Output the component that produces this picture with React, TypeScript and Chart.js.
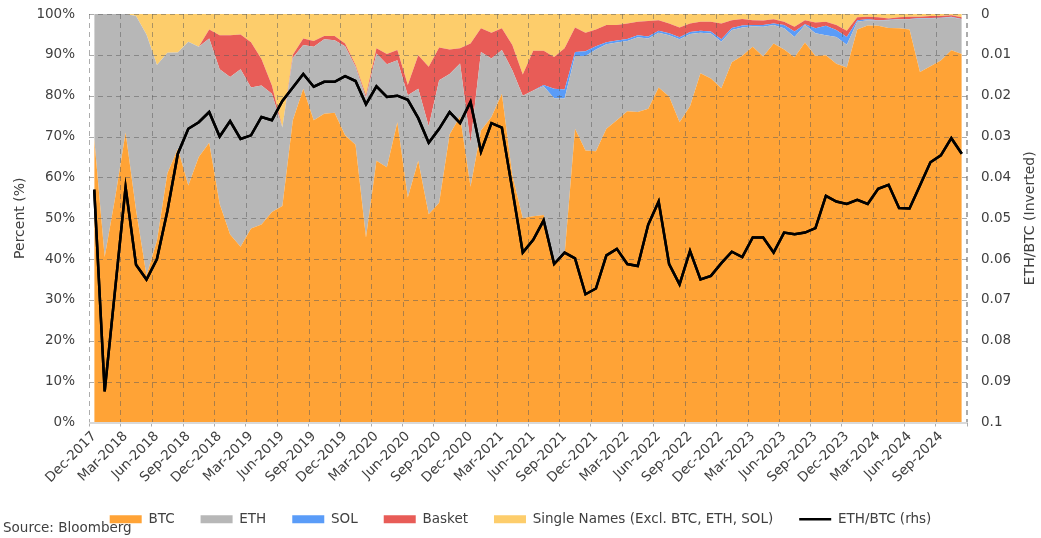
import React, { useEffect, useRef } from "react";
import { Chart, registerables } from "chart.js";

Chart.register(...registerables);

const months: string[] = [
  "Dec-2017",
  "Jan-2018","Feb-2018","Mar-2018","Apr-2018","May-2018","Jun-2018","Jul-2018","Aug-2018","Sep-2018","Oct-2018","Nov-2018","Dec-2018",
  "Jan-2019","Feb-2019","Mar-2019","Apr-2019","May-2019","Jun-2019","Jul-2019","Aug-2019","Sep-2019","Oct-2019","Nov-2019","Dec-2019",
  "Jan-2020","Feb-2020","Mar-2020","Apr-2020","May-2020","Jun-2020","Jul-2020","Aug-2020","Sep-2020","Oct-2020","Nov-2020","Dec-2020",
  "Jan-2021","Feb-2021","Mar-2021","Apr-2021","May-2021","Jun-2021","Jul-2021","Aug-2021","Sep-2021","Oct-2021","Nov-2021","Dec-2021",
  "Jan-2022","Feb-2022","Mar-2022","Apr-2022","May-2022","Jun-2022","Jul-2022","Aug-2022","Sep-2022","Oct-2022","Nov-2022","Dec-2022",
  "Jan-2023","Feb-2023","Mar-2023","Apr-2023","May-2023","Jun-2023","Jul-2023","Aug-2023","Sep-2023","Oct-2023","Nov-2023","Dec-2023",
  "Jan-2024","Feb-2024","Mar-2024","Apr-2024","May-2024","Jun-2024","Jul-2024","Aug-2024","Sep-2024","Oct-2024","Nov-2024",
];

const btc: number[] = [
  69.5, 40.5, 55, 71, 52, 36, 44.5, 61, 67, 58,
  65, 68.5, 53.5, 46, 43, 47.5, 48.5, 51.5, 53, 74,
  81.7, 74, 75.6, 75.8, 70.3, 68, 45.3, 64.1, 62.5, 73.5,
  55.1, 64.1, 51, 53.8, 70.5, 75, 57.7, 71.5, 74.8, 80.5,
  60.5, 50, 50.5, 50.8, 38.7, 41, 71.9, 66.6, 66.4, 71.9,
  74, 76.2, 76, 76.8, 82, 79.8, 73.5, 77.4, 85.5, 84.2,
  81.8, 88.2, 89.8, 92, 89.6, 92.8, 91.3, 89.4, 93, 89.7,
  89.9, 87.8, 86.9, 96.2, 97.2, 97.1, 96.6, 96.5, 96.2, 85.8,
  87.2, 88.6, 91.1, 90.2,
];

const eth: number[] = [
  30.5, 59.5, 45, 29, 47.5, 59, 43, 29.5, 23.6, 35.2,
  27, 25.5, 33, 38.6, 43.5, 34.5, 34, 29, 19.2, 15.3,
  10.7, 18, 18.2, 17.8, 21.8, 19.1, 34.2, 26.2, 25.2, 15.2,
  25, 17.6, 21.5, 30, 14.8, 12.9, 10.7, 19.2, 14.3, 10.7,
  25.7, 30, 30.8, 31.5, 40.7, 38.3, 17.8, 23.1, 24.9, 20.7,
  19, 17.2, 18.3, 17.2, 13.4, 15, 20.3, 17.7, 9.9, 11,
  11.4, 7.9, 6.9, 5, 7.3, 4.5, 5.2, 5, 4.3, 5.6,
  4.9, 6.6, 5.6, 1.9, 1.3, 1.3, 1.9, 2.2, 2.5, 13.1,
  11.7, 10.4, 8.1, 8.5,
];

const sol: number[] = [
  0, 0, 0, 0, 0, 0, 0, 0, 0, 0,
  0, 0, 0, 0, 0, 0, 0, 0, 0, 0,
  0, 0, 0, 0, 0, 0, 0, 0, 0, 0,
  0, 0, 0, 0, 0, 0, 0, 0, 0, 0,
  0, 0, 0, 0.3, 2.3, 2.2, 1.0, 1.2, 0.8, 0.5,
  0.5, 0.5, 0.5, 0.5, 0.5, 0.5, 0.5, 0.5, 0.5, 0.5,
  0.6, 0.5, 0.5, 0.3, 0.4, 0.4, 0.8, 1.3, 0.2, 1.2,
  2.3, 1.7, 1.9, 0.4, 0.2, 0.1, 0.1, 0.1, 0.1, 0.1,
  0.1, 0.1, 0.1, 0.1,
];

const basket: number[] = [
  0, 0, 0, 0, 0, 0, 0, 0, 0, 0,
  0, 2.2, 8.3, 10.2, 8.5, 11.1, 6.5, 2, 0, 0.7,
  1.6, 1.4, 0.8, 1.0, 0.7, 0.4, 0.6, 1.3, 2.5, 2.5,
  2.5, 8.2, 14.6, 8, 6, 3.7, 24.4, 5.8, 6.3, 5.3,
  6.2, 5.2, 9.7, 8.4, 7.8, 10.1, 6, 4.5, 4.1, 4.2,
  3.8, 3.8, 3.3, 3.8, 2.6, 2.4, 2.4, 2.1, 2.2, 2.4,
  3.9, 1.9, 1.6, 1.2, 1.1, 1.0, 0.8, 1.2, 1.0, 1.4,
  1.0, 1.2, 1.5, 0.7, 0.6, 0.7, 0.3, 0.4, 0.5, 0.3,
  0.5, 0.4, 0.4, 0.4,
];

const singleNames: number[] = [
  0, 0, 0, 0, 0.5, 5, 12.5, 9.5, 9.4, 6.8,
  8, 3.8, 5.2, 5.2, 5, 6.9, 11, 17.5, 27.8, 10,
  6, 6.6, 5.4, 5.4, 7.2, 12.5, 19.9, 8.4, 9.8, 8.8,
  17.4, 10.1, 12.9, 8.2, 8.7, 8.4, 7.2, 3.5, 4.6, 3.5,
  7.6, 14.8, 9, 9, 10.5, 8.4, 3.3, 4.6, 3.8, 2.7,
  2.7, 2.3, 1.9, 1.7, 1.5, 2.3, 3.3, 2.3, 1.9, 1.9,
  2.3, 1.5, 1.2, 1.5, 1.6, 1.3, 1.9, 3.1, 1.5, 2.1,
  1.9, 2.7, 4.1, 0.8, 0.7, 0.8, 1.1, 0.8, 0.7, 0.7,
  0.5, 0.5, 0.3, 0.8,
];

const ethBtc: number[] = [
  0.0430, 0.0924, 0.0674, 0.0424, 0.0614, 0.0650, 0.0600, 0.0482, 0.0342, 0.0281,
  0.0265, 0.0240, 0.0300, 0.0262, 0.0306, 0.0297, 0.0252, 0.0260, 0.0213, 0.0180,
  0.0147, 0.0178, 0.0166, 0.0166, 0.0152, 0.0164, 0.0221, 0.0177, 0.0203, 0.0200,
  0.0210, 0.0255, 0.0315, 0.0281, 0.0240, 0.0267, 0.0215, 0.0337, 0.0267, 0.0278,
  0.0430, 0.0584, 0.0553, 0.0505, 0.0612, 0.0584, 0.0598, 0.0686, 0.0672, 0.0591,
  0.0575, 0.0612, 0.0617, 0.0516, 0.0459, 0.0612, 0.0662, 0.0580, 0.0650, 0.0641,
  0.0610, 0.0582, 0.0595, 0.0547, 0.0547, 0.0584, 0.0535, 0.0539, 0.0535, 0.0524,
  0.0445, 0.0459, 0.0465, 0.0455, 0.0465, 0.0428, 0.0418, 0.0475, 0.0476, 0.0420,
  0.0363, 0.0346, 0.0304, 0.0342,
];

const seriesNames = ["BTC", "ETH", "SOL", "Basket", "Single Names (Excl. BTC, ETH, SOL)", "ETH/BTC (rhs)"];
const leftTitle = "Percent (%)";
const rightTitle = "ETH/BTC (Inverted)";
const sourceText = "Source: Bloomberg";

const FONT = "'DejaVu Sans', sans-serif";
const TEXT = "#404040";
const GRID = "rgba(90,90,90,0.5)";
const LINE_INDEX = 5;

export default function App() {
  const ref = useRef<HTMLCanvasElement | null>(null);

  useEffect(() => {
    document.body.style.margin = "0";
    const canvas = ref.current;
    if (!canvas) return;

    // Overlay: dashed grid (positions taken from the chart's own scales) above the fills,
    // then the library re-draws the ETH/BTC line element on top, then the extra texts.
    const overlay = {
      id: "overlay",
      afterDraw(chart: any) {
        const ca = chart.chartArea;
        const ctx = chart.ctx;
        const xs = chart.scales.x;
        const ys = chart.scales.y;

        ctx.save();
        ctx.strokeStyle = GRID;
        ctx.lineWidth = 1;
        ctx.setLineDash([5, 4]);
        ctx.beginPath();
        for (const t of ys.ticks) {
          const y = Math.round(ys.getPixelForValue(t.value)) + 0.5;
          ctx.moveTo(ca.left, y);
          ctx.lineTo(ca.right, y);
        }
        const n = months.length;
        for (let i = 0; i <= n; i += 3) {
          let x: number;
          if (i === 0) x = ca.left;
          else if (i >= n) x = ca.right;
          else x = (xs.getPixelForValue(i) + xs.getPixelForValue(i - 1)) / 2;
          x = Math.round(x) + 0.5;
          ctx.moveTo(x, ca.top);
          ctx.lineTo(x, ca.bottom);
        }
        ctx.moveTo(Math.round(ca.right) - 0.5, ca.top);
        ctx.lineTo(Math.round(ca.right) - 0.5, ca.bottom);
        ctx.stroke();
        ctx.restore();

        // bottom axis line
        ctx.save();
        ctx.strokeStyle = "#D9D9D9";
        ctx.lineWidth = 2;
        ctx.beginPath();
        ctx.moveTo(ca.left, Math.round(ca.bottom));
        ctx.lineTo(ca.right, Math.round(ca.bottom));
        ctx.stroke();
        ctx.restore();

        const meta = chart.getDatasetMeta(LINE_INDEX);
        ctx.save();
        ctx.beginPath();
        ctx.rect(ca.left, ca.top - 2, ca.right - ca.left, ca.bottom - ca.top + 4);
        ctx.clip();
        meta.controller.draw();
        ctx.restore();

        ctx.save();
        ctx.fillStyle = TEXT;
        ctx.font = `13.5px ${FONT}`;
        ctx.textAlign = "left";
        ctx.textBaseline = "alphabetic";
        ctx.fillText(sourceText, 3, 532);
        ctx.translate(1030, (ca.top + ca.bottom) / 2);
        ctx.rotate(-Math.PI / 2);
        ctx.textAlign = "center";
        ctx.textBaseline = "middle";
        ctx.font = `14px ${FONT}`;
        ctx.fillText(rightTitle, 0, 0);
        ctx.restore();
      },
    };

    const area = (label: string, data: number[], color: string, fill: any) => ({
      type: "line" as const,
      label,
      data,
      yAxisID: "y",
      backgroundColor: color,
      borderColor: color,
      borderWidth: 0,
      pointRadius: 0,
      pointHoverRadius: 0,
      pointStyle: "rect",
      fill,
      tension: 0,
    });

    const chart = new Chart(canvas, {
      type: "line",
      data: {
        labels: months,
        datasets: [
          area(seriesNames[0], btc, "#FFA336", "origin"),
          area(seriesNames[1], eth, "#B7B7B7", "-1"),
          area(seriesNames[2], sol, "#5A9CF8", "-1"),
          area(seriesNames[3], basket, "#E85C57", "-1"),
          area(seriesNames[4], singleNames, "#FDCD6B", "-1"),
          {
            type: "line",
            label: seriesNames[5],
            data: ethBtc,
            yAxisID: "y1",
            borderColor: "#000000",
            backgroundColor: "#000000",
            borderWidth: 2.5,
            pointRadius: 0,
            pointHoverRadius: 0,
            pointStyle: "line",
            fill: false,
            tension: 0,
            order: -1,
          } as any,
        ],
      },
      options: {
        responsive: false,
        animation: false,
        devicePixelRatio: 1,
        layout: { padding: { top: 14, left: 0, right: 0, bottom: 2 } },
        font: { family: FONT, size: 13.5 } as any,
        plugins: {
          tooltip: { enabled: false },
          legend: {
            position: "bottom",
            labels: {
              color: TEXT,
              font: { family: FONT, size: 13.5 },
              usePointStyle: true,
              pointStyleWidth: 32,
              boxHeight: 8,
              padding: 26,
              sort: (a: any, b: any) => a.datasetIndex - b.datasetIndex,
            },
          },
        },
        scales: {
          x: {
            type: "category",
            offset: true,
            grid: {
              offset: true,
              display: true,
              drawOnChartArea: false,
              drawTicks: true,
              tickLength: 4,
              lineWidth: 1,
              color: (ctx: any) =>
                ctx.index === undefined || ctx.index % 3 === 0 ? GRID : "rgba(0,0,0,0)",
            },
            border: { display: false },
            ticks: {
              autoSkip: false,
              maxRotation: 45,
              minRotation: 45,
              padding: 2,
              color: TEXT,
              font: { family: FONT, size: 13.5 },
              callback: (_v: any, i: number) => (i % 3 === 0 ? months[i] : ""),
            },
            afterFit: (s: any) => {
              s.height = 64;
            },
          },
          y: {
            type: "linear",
            position: "left",
            stacked: true,
            min: 0,
            max: 100,
            grid: {
              drawOnChartArea: false,
              drawTicks: true,
              tickLength: 11,
              tickColor: "rgba(0,0,0,0)",
            },
            border: { display: false },
            ticks: {
              stepSize: 10,
              padding: 3,
              color: TEXT,
              font: { family: FONT, size: 13.5 },
              callback: (v: any) => `${v}%`,
            },
            title: {
              display: true,
              text: leftTitle,
              color: TEXT,
              font: { family: FONT, size: 14 },
              padding: { top: 12, bottom: 0 },
            },
            afterFit: (s: any) => {
              s.width = 89;
            },
          },
          y1: {
            type: "linear",
            position: "right",
            reverse: true,
            min: 0,
            max: 0.1,
            grid: {
              display: true,
              drawOnChartArea: false,
              drawTicks: true,
              tickLength: 11,
              tickColor: "rgba(0,0,0,0)",
            },
            border: { display: false },
            ticks: {
              stepSize: 0.01,
              padding: 3,
              color: TEXT,
              font: { family: FONT, size: 13.5 },
              callback: (v: any) => String(Number(Number(v).toFixed(2))),
            },
            afterFit: (s: any) => {
              s.width = 74;
            },
          },
        },
      } as any,
      plugins: [overlay],
    });

    return () => chart.destroy();
  }, []);

  return (
    <div style={{ width: 1041, height: 538, position: "relative" }}>
      <canvas ref={ref} width={1041} height={538} style={{ width: 1041, height: 538, display: "block" }} />
    </div>
  );
}
